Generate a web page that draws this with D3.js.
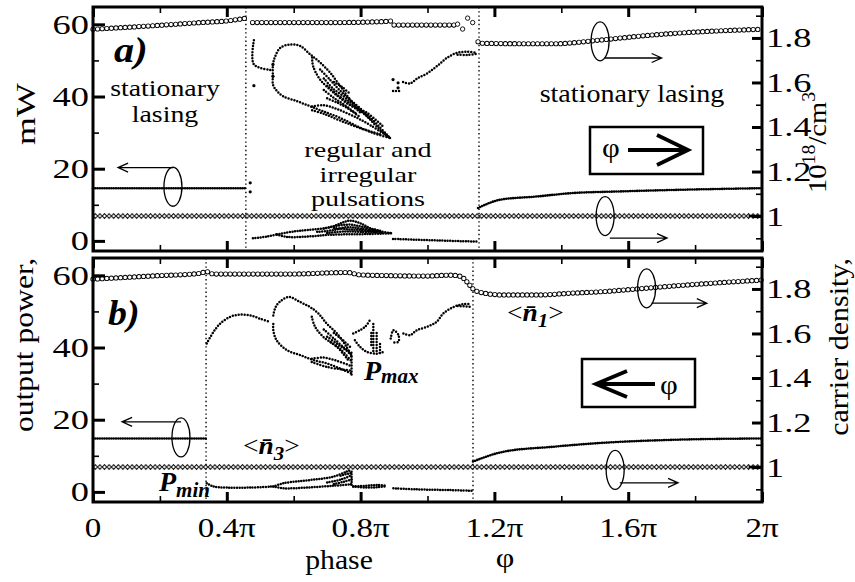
<!DOCTYPE html>
<html>
<head>
<meta charset="utf-8">
<script src="https://cdn.jsdelivr.net/npm/d3@7"></script>
<style>
  body { margin: 0; background: #fff; }
</style>
</head>
<body>
<div id="chart"></div>
<script>
// phase in units of pi, power in mW (left axis), carrier density in 1e18/cm^3 (right axis)

// ---- axis ticks ----
const xMajor = [0, 0.4, 0.8, 1.2, 1.6, 2.0];
const xMinor = [0.2, 0.6, 1.0, 1.4, 1.8];
const xTickText = ["0", "0.4\u03c0", "0.8\u03c0", "1.2\u03c0", "1.6\u03c0", "2\u03c0"];
const yLMajor = [0, 20, 40, 60];
const yLMinor = [10, 30, 50];
const yRMajor = [1, 1.2, 1.4, 1.6, 1.8];
const yRMinor = [0.9, 1.1, 1.3, 1.5, 1.7, 1.9];
const yRText = ["1", "1.2", "1.4", "1.6", "1.8"];

// ---- panel a) : phase increasing ----
const switchA = [0.457, 1.154];
const n1A = [
  [[0, 1.839], [0.17, 1.854], [0.32, 1.869], [0.41, 1.878], [0.457, 1.889]],
  [[0.477, 1.869], [0.71, 1.869], [0.86, 1.873], [0.89, 1.876]],
  [[0.9, 1.858], [1.08, 1.858]],
  [[1.151, 1.783], [1.165, 1.776], [1.28, 1.774], [1.38, 1.774], [1.52, 1.791], [1.67, 1.813], [1.82, 1.828], [2.0, 1.839]]
];
const n1AScatter = [[1.09, 1.862], [1.105, 1.84], [1.12, 1.889], [1.135, 1.869]];
const n3A = [[0, 1.0], [2.0, 1.0]];
const powA = [
  [[0, 14.6], [0.457, 14.6]],
  [[1.151, 9.1], [1.217, 11.4], [1.327, 12.3], [1.426, 13.2], [1.575, 13.7], [1.776, 14.2], [2.0, 14.6]]
];
const pmaxA = [
  [[0.481, 55.6], [0.481, 48.9], [0.535, 47.3]],
  [[0.538, 45.6], [0.538, 48.9], [0.545, 51.2], [0.56, 53.5], [0.589, 54.4], [0.619, 54], [0.649, 51.7], [0.679, 49.4], [0.709, 46.6], [0.739, 42.9], [0.777, 38.2], [0.819, 34.5], [0.858, 30.8], [0.888, 28.5]],
  [[0.655, 50.8], [0.658, 48.4], [0.679, 44.7], [0.72, 41], [0.77, 37.5], [0.819, 35.5], [0.867, 31.7]],
  [[0.538, 45.6], [0.538, 43.3], [0.55, 41.5], [0.568, 40.1], [0.61, 38.7], [0.649, 37.3], [0.688, 35.9], [0.738, 34.1], [0.789, 31.8], [0.837, 29.9], [0.888, 28.5]],
  [[0.655, 37.2], [0.69, 37.6], [0.73, 36.5], [0.78, 34.5], [0.83, 32], [0.888, 28.5]],
  [[0.655, 36.2], [0.69, 35.2], [0.74, 33.3], [0.8, 31.2], [0.86, 29.5]],
  [[0.679, 47.5], [0.71, 44.5], [0.74, 41.5], [0.77, 39], [0.82, 35], [0.888, 28.5]],
  [[0.69, 45], [0.72, 42], [0.75, 40], [0.78, 37.5], [0.84, 33]],
  [[0.70, 43], [0.73, 40.5], [0.76, 38.5], [0.8, 35.5]],
  [[0.70, 39.5], [0.73, 38.3], [0.76, 36.8], [0.8, 34.2]],
  [[0.69, 41.8], [0.72, 39.6], [0.75, 37.8], [0.79, 35]],
  [[0.72, 44], [0.745, 42.6], [0.77, 40.6]],
  [[0.927, 44], [0.948, 43.6], [0.969, 45], [0.999, 46.4], [1.028, 48.4], [1.058, 50.7], [1.088, 52.1], [1.118, 52.4], [1.148, 52.1]],
  [[1.09, 51.6], [1.118, 51.5], [1.148, 51.8]],
  [[0.897, 41.5], [0.905, 41.5], [0.915, 41.5]]
];
const pmaxADots = [[0.481, 43], [0.538, 48.9], [0.538, 45.6], [0.47, 16.1], [0.47, 13.6], [0.897, 44.7], [0.912, 43.8], [0.912, 42.4]];
const pminA = [
  [[0.478, 0.75], [0.52, 1.2], [0.55, 1.8]],
  [[0.55, 1.8], [0.6, 2.6], [0.64, 3.0], [0.709, 3.8], [0.747, 5.1], [0.768, 5.6], [0.798, 4.9], [0.837, 3.2], [0.894, 2.1]],
  [[0.55, 1.8], [0.58, 1.1], [0.64, 1.2], [0.71, 1.7], [0.82, 1.9], [0.894, 2.1]],
  [[0.67, 2.5], [0.72, 3.0], [0.76, 3.8], [0.8, 3.4], [0.86, 2.6]],
  [[0.69, 3.4], [0.73, 4.2], [0.77, 4.5], [0.81, 3.8], [0.86, 2.8]],
  [[0.70, 2.2], [0.75, 2.6], [0.80, 2.5], [0.87, 2.3]],
  [[0.72, 3.6], [0.76, 3.2], [0.80, 3.0], [0.85, 2.5]],
  [[0.897, 0.55], [1.037, 0.1], [1.148, -0.2]]
];

// ---- panel b) : phase decreasing ----
const switchB = [0.338, 1.136];
const n1B = [
  [[0, 1.844], [0.17, 1.858], [0.32, 1.870], [0.338, 1.878], [0.36, 1.867], [0.59, 1.867], [0.76, 1.874], [0.8, 1.863], [1.0, 1.858], [1.07, 1.862], [1.1, 1.856], [1.12, 1.828], [1.136, 1.80], [1.163, 1.783], [1.226, 1.773], [1.33, 1.773], [1.43, 1.781], [1.525, 1.788], [1.626, 1.80], [1.776, 1.818], [1.874, 1.828], [2.0, 1.84]]
];
const n3B = [[0, 1.0], [2.0, 1.0]];
const powB = [
  [[0, 14.8], [0.338, 14.8]],
  [[1.136, 8.4], [1.226, 11.1], [1.375, 12.5], [1.525, 13.6], [1.725, 14.4], [2.0, 14.8]]
];
const pmaxB = [
  [[0.34, 41.1], [0.36, 44.3], [0.38, 46.6], [0.41, 48.5], [0.439, 49.1], [0.469, 48.9], [0.499, 48], [0.529, 47.1]],
  [[0.539, 48.9], [0.549, 51.7], [0.584, 54], [0.619, 52.6], [0.649, 51.2], [0.674, 49.4], [0.699, 46.6], [0.729, 43.9], [0.758, 40.2], [0.773, 37.4]],
  [[0.654, 48.5], [0.664, 45.7], [0.689, 42.9], [0.729, 40.2], [0.763, 36.5]],
  [[0.539, 46.5], [0.539, 44.8], [0.549, 42], [0.579, 39.3], [0.619, 37.9], [0.659, 36.5], [0.699, 35.6], [0.738, 34.2], [0.773, 32.8]],
  [[0.654, 36.9], [0.69, 37.2], [0.73, 36.3], [0.773, 34.8]],
  [[0.654, 36.0], [0.70, 34.6], [0.773, 33.6]],
  [[0.69, 45], [0.72, 42.5], [0.75, 40], [0.773, 38.5]],
  [[0.70, 43], [0.73, 41], [0.76, 39], [0.773, 37.8]],
  [[0.71, 41.5], [0.74, 39.5], [0.773, 36.2]],
  [[0.72, 44], [0.75, 41.8], [0.773, 39.8]],
  [[0.773, 32.5], [0.773, 38]],
  [[0.778, 43.9], [0.798, 44.8], [0.813, 45.7], [0.828, 47.6]],
  [[0.783, 42], [0.798, 40.2], [0.818, 38.8], [0.848, 38.3], [0.868, 38.8]],
  [[0.838, 46.5], [0.838, 38.5]],
  [[0.848, 44], [0.848, 38.3]],
  [[0.858, 41], [0.858, 38.3]],
  [[0.832, 44], [0.832, 40]],
  [[0.89, 42.5], [0.898, 44.8], [0.913, 43.5], [0.913, 41.6], [0.898, 41.4]],
  [[0.928, 43.9], [0.948, 43.4], [0.968, 44.8], [0.998, 45.7], [1.027, 47.1], [1.047, 49.4], [1.077, 51.2], [1.107, 52], [1.127, 52]],
  [[1.09, 51.5], [1.127, 51.3]]
];
const pminB = [
  [[0.34, 2.4], [0.36, 1.5], [0.40, 1.2], [0.469, 1.2], [0.539, 1.5]],
  [[0.539, 1.5], [0.569, 2.4], [0.619, 3.0], [0.669, 3.5], [0.718, 4.2], [0.758, 5.6], [0.773, 6.1]],
  [[0.539, 1.5], [0.569, 1.0], [0.639, 1.2], [0.718, 1.7], [0.773, 2.1]],
  [[0.70, 2.6], [0.74, 3.4], [0.773, 4.6]],
  [[0.72, 2.2], [0.75, 2.8], [0.773, 3.4]],
  [[0.74, 4.5], [0.773, 5.3]],
  [[0.773, 2.0], [0.773, 6.2]],
  [[0.778, 1.5], [0.818, 1.7], [0.848, 1.9], [0.878, 1.7]],
  [[0.778, 1.5], [0.818, 1.2], [0.85, 1.3], [0.878, 1.6]],
  [[0.898, 1.0], [0.968, 0.7], [1.067, 0.5], [1.132, 0.3]]
];

// ellipse markers: centre (phase, value), arrow from ax[0] to ax[1] at height ay
const marksA = [
  { axis: "L", cx: 0.239, cy: 15, ax: [0.239, 0.075], ay: 20.3 },
  { axis: "R", cx: 1.516, cy: 1.785, ax: [1.53, 1.70], ay: 1.71 },
  { axis: "R", cx: 1.531, cy: 1.0, ax: [1.545, 1.716], ay: 0.901 }
];
const marksB = [
  { axis: "L", cx: 0.263, cy: 15.1, ax: [0.263, 0.087], ay: 19.4 },
  { axis: "R", cx: 1.655, cy: 1.803, ax: [1.67, 1.835], ay: 1.736 },
  { axis: "R", cx: 1.561, cy: 0.987, ax: [1.575, 1.749], ay: 0.929 }
];

const width = 855, height = 582;
const FONT = "'Liberation Serif', 'Times New Roman', serif";

const svg = d3.select("#chart").append("svg")
  .attr("width", width)
  .attr("height", height);

const x = d3.scaleLinear().domain([0, 2]).range([93, 762]);

const panels = [
  { top: 7, bottom: 251, n1: n1A, n1s: n1AScatter, n3: n3A, pow: powA, pmax: pmaxA, pmin: pminA, dots: pmaxADots, sw: switchA, marks: marksA },
  { top: 258, bottom: 502, n1: n1B, n1s: [], n3: n3B, pow: powB, pmax: pmaxB, pmin: pminB, dots: [], sw: switchB, marks: marksB }
];

function label(sel, px, py, str, o = {}) {
  const t = sel.append("text")
    .attr("transform", `translate(${px},${py})` + (o.rot ? ` rotate(${o.rot})` : "") + ` scale(${o.sx || 1.1},1)`)
    .attr("font-family", FONT)
    .attr("font-size", o.size || 26)
    .attr("text-anchor", o.anchor || "start")
    .attr("fill", "#000");
  if (o.weight) t.attr("font-weight", o.weight);
  if (o.italic) t.attr("font-style", "italic");
  if (str !== null) t.text(str);
  return t;
}

// several lines in one text element
function block(px, py, lines, gaps, o) {
  const t = label(svg, px, py, null, o);
  lines.forEach((s, k) => t.append("tspan").attr("x", 0).attr("dy", k ? gaps[k - 1] : 0).text(s));
}

function dotted(g, data, ys, gap, w, curve) {
  g.append("path")
    .datum(data)
    .attr("d", d3.line().x(d => x(d[0])).y(d => ys(d[1])).curve(curve || d3.curveCatmullRom))
    .attr("fill", "none")
    .attr("stroke", "#000")
    .attr("stroke-width", w)
    .attr("stroke-linecap", "round")
    .attr("stroke-dasharray", `0 ${gap}`);
}

panels.forEach((p, i) => {
  const yL = d3.scaleLinear().domain([-2.8, 64.8]).range([p.bottom, p.top]);
  const yR = d3.scaleLinear().domain([0.843, 1.939]).range([p.bottom, p.top]);
  const g = svg.append("g");

  // dotted switching lines
  g.selectAll(".sw")
    .data(p.sw)
    .join("line")
    .attr("x1", d => x(d)).attr("x2", d => x(d))
    .attr("y1", p.top).attr("y2", p.bottom)
    .attr("stroke", "#000")
    .attr("stroke-width", 1.4)
    .attr("stroke-dasharray", "1.4 2.8");

  // <n3> : chain of diamonds
  const pid = "dia" + i;
  const pat = svg.append("defs").append("pattern")
    .attr("id", pid)
    .attr("patternUnits", "userSpaceOnUse")
    .attr("x", x(0)).attr("y", yR(p.n3[0][1]) - 3)
    .attr("width", 4.6).attr("height", 6);
  pat.append("polygon")
    .attr("points", "0.2,3 2.3,0.6 4.4,3 2.3,5.4")
    .attr("fill", "#fff").attr("stroke", "#000").attr("stroke-width", 1);
  g.append("rect")
    .attr("x", x(p.n3[0][0])).attr("width", x(p.n3[1][0]) - x(p.n3[0][0]))
    .attr("y", yR(p.n3[0][1]) - 3).attr("height", 6)
    .attr("fill", `url(#${pid})`);
  g.append("line")
    .attr("x1", x(1.96)).attr("x2", x(2.0))
    .attr("y1", yR(1.0)).attr("y2", yR(1.0))
    .attr("stroke", "#000").attr("stroke-width", 2.5);

  // <n1> : open circles
  const ringLine = d3.line().x(d => x(d[0])).y(d => yR(d[1])).curve(d3.curveMonotoneX);
  p.n1.forEach(seg => {
    g.append("path").datum(seg).attr("d", ringLine)
      .attr("fill", "none").attr("stroke", "#000").attr("stroke-width", 5.2)
      .attr("stroke-linecap", "round").attr("stroke-dasharray", "0 4.6");
    g.append("path").datum(seg).attr("d", ringLine)
      .attr("fill", "none").attr("stroke", "#fff").attr("stroke-width", 3.5)
      .attr("stroke-linecap", "round").attr("stroke-dasharray", "0 4.6");
  });
  g.selectAll(".ring")
    .data(p.n1s)
    .join("circle")
    .attr("cx", d => x(d[0])).attr("cy", d => yR(d[1]))
    .attr("r", 2.2)
    .attr("fill", "#fff").attr("stroke", "#000").attr("stroke-width", 0.9);

  // stationary output power
  p.pow.forEach(seg => dotted(g, seg, yL, 2.3, 2.6, d3.curveMonotoneX));
  // pulsation extrema
  p.pmax.forEach(seg => dotted(g, seg, yL, 3, 2.5));
  p.pmin.forEach(seg => dotted(g, seg, yL, 2.6, 2.5));
  g.selectAll(".dot")
    .data(p.dots)
    .join("circle")
    .attr("cx", d => x(d[0])).attr("cy", d => yL(d[1]))
    .attr("r", 1.6).attr("fill", "#000");

  // ellipse + arrow markers
  p.marks.forEach(m => {
    const ys = m.axis === "L" ? yL : yR;
    g.append("ellipse")
      .attr("cx", x(m.cx)).attr("cy", ys(m.cy))
      .attr("rx", 9).attr("ry", 19.5)
      .attr("fill", "none").attr("stroke", "#000").attr("stroke-width", 1.3);
    const x0 = x(m.ax[0]), x1 = x(m.ax[1]), yy = ys(m.ay);
    const dir = Math.sign(x1 - x0);
    g.append("path")
      .attr("d", `M${x0},${yy}H${x1}M${x1 - dir * 10},${yy - 4.5}L${x1},${yy}L${x1 - dir * 10},${yy + 4.5}`)
      .attr("fill", "none").attr("stroke", "#000").attr("stroke-width", 1.3);
  });

  // frame
  g.append("rect")
    .attr("x", x(0)).attr("y", p.top)
    .attr("width", x(2) - x(0)).attr("height", p.bottom - p.top)
    .attr("fill", "none").attr("stroke", "#000").attr("stroke-width", 3);

  // ticks (inward)
  const tick = (sel, w) => { sel.select(".domain").remove(); sel.selectAll("line").attr("stroke-width", w); };
  g.append("g").attr("transform", `translate(0,${p.bottom})`)
    .call(d3.axisBottom(x).tickValues(xMajor).tickSize(-10).tickFormat("")).call(tick, 3);
  g.append("g").attr("transform", `translate(0,${p.bottom})`)
    .call(d3.axisBottom(x).tickValues(xMinor).tickSize(-6).tickFormat("")).call(tick, 1.6);
  g.append("g").attr("transform", `translate(0,${p.top})`)
    .call(d3.axisTop(x).tickValues(xMajor).tickSize(-10).tickFormat("")).call(tick, 3);
  g.append("g").attr("transform", `translate(0,${p.top})`)
    .call(d3.axisTop(x).tickValues(xMinor).tickSize(-6).tickFormat("")).call(tick, 1.6);
  g.append("g").attr("transform", `translate(${x(0)},0)`)
    .call(d3.axisLeft(yL).tickValues(yLMajor).tickSize(-12).tickFormat("")).call(tick, 3);
  g.append("g").attr("transform", `translate(${x(0)},0)`)
    .call(d3.axisLeft(yL).tickValues(yLMinor).tickSize(-6).tickFormat("")).call(tick, 1.6);
  g.append("g").attr("transform", `translate(${x(2)},0)`)
    .call(d3.axisRight(yR).tickValues(yRMajor).tickSize(-10).tickFormat("")).call(tick, 3);
  g.append("g").attr("transform", `translate(${x(2)},0)`)
    .call(d3.axisRight(yR).tickValues(yRMinor).tickSize(-6).tickFormat("")).call(tick, 1.6);

  // tick labels
  yLMajor.forEach(v => label(svg, 89, yL(v) + 9.5, String(v), { size: 28, sx: 1.3, anchor: "end" }));
  yRMajor.forEach((v, k) => label(svg, 766, yR(v) + 9.5, yRText[k], { size: 28, sx: 1.3 }));
});

xMajor.forEach((v, k) => label(svg, x(v), 537, xTickText[k], { size: 28, sx: 1.18, anchor: "middle" }));

// axis titles
label(svg, 339, 569, "phase", { size: 27, sx: 1.1, anchor: "middle" });
label(svg, 505, 567, "\u03c6", { size: 28, sx: 1.15, anchor: "middle" });
label(svg, 35, 114, "mW", { size: 27, sx: 1.33, anchor: "middle", rot: -90 });
label(svg, 33, 345, "output power,", { size: 27, sx: 1.17, anchor: "middle", rot: -90 });
label(svg, 848, 347, "carrier density,", { size: 27, sx: 1.11, anchor: "middle", rot: -90 });
const unit = label(svg, 826, 193, null, { size: 26, sx: 1.1, rot: -90 });
unit.append("tspan").text("10");
unit.append("tspan").attr("font-size", 18).attr("dy", -11).text("18");
unit.append("tspan").attr("dy", 11).text("/cm");
unit.append("tspan").attr("font-size", 18).attr("dy", -11).text("3");

// panel a annotations
label(svg, 114, 62, "a)", { size: 36, sx: 1.12, weight: "bold", italic: true });
block(165, 96, ["stationary", "lasing"], [26], { size: 23, sx: 1.21, anchor: "middle" });
block(368, 157, ["regular and", "irregular", "pulsations"], [25, 24.5], { size: 22, sx: 1.28, anchor: "middle" });
label(svg, 632, 102, "stationary lasing", { size: 26, sx: 1.08, anchor: "middle" });
svg.append("rect").attr("x", 590).attr("y", 127).attr("width", 113).attr("height", 47)
  .attr("fill", "none").attr("stroke", "#000").attr("stroke-width", 2.5);
label(svg, 611, 157, "\u03c6", { size: 28, sx: 1.1, anchor: "middle" });
svg.append("path").attr("d", "M628,150H687M657,135L688,150L657,165")
  .attr("fill", "none").attr("stroke", "#000").attr("stroke-width", 3.8);

// panel b annotations
label(svg, 108, 325, "b)", { size: 36, sx: 1.05, weight: "bold", italic: true });
const pmx = label(svg, 364, 380, null, { size: 28, sx: 1.0, weight: "bold", italic: true });
pmx.append("tspan").text("P");
pmx.append("tspan").attr("font-size", 21).attr("dy", 3).text("max");
const pmn = label(svg, 159, 491, null, { size: 28, sx: 1.0, weight: "bold", italic: true });
pmn.append("tspan").text("P");
pmn.append("tspan").attr("font-size", 21).attr("dy", 6).text("min");
function meanN(px, py, sub) {
  const t = label(svg, px, py, null, { size: 25, sx: 1.1 });
  t.append("tspan").text("<");
  t.append("tspan").attr("font-weight", "bold").attr("font-style", "italic").text("n\u0304");
  t.append("tspan").attr("font-weight", "bold").attr("font-style", "italic").attr("font-size", 19).attr("dy", 6).text(sub);
  t.append("tspan").attr("dy", -6).text(">");
}
meanN(243, 454, "3");
meanN(507, 321, "1");
svg.append("rect").attr("x", 582).attr("y", 359).attr("width", 113).attr("height", 48)
  .attr("fill", "none").attr("stroke", "#000").attr("stroke-width", 2.5);
label(svg, 669, 394, "\u03c6", { size: 28, sx: 1.1, anchor: "middle" });
svg.append("path").attr("d", "M655,384H597M627,371L596,384L627,397")
  .attr("fill", "none").attr("stroke", "#000").attr("stroke-width", 3.8);
</script>
</body>
</html>
